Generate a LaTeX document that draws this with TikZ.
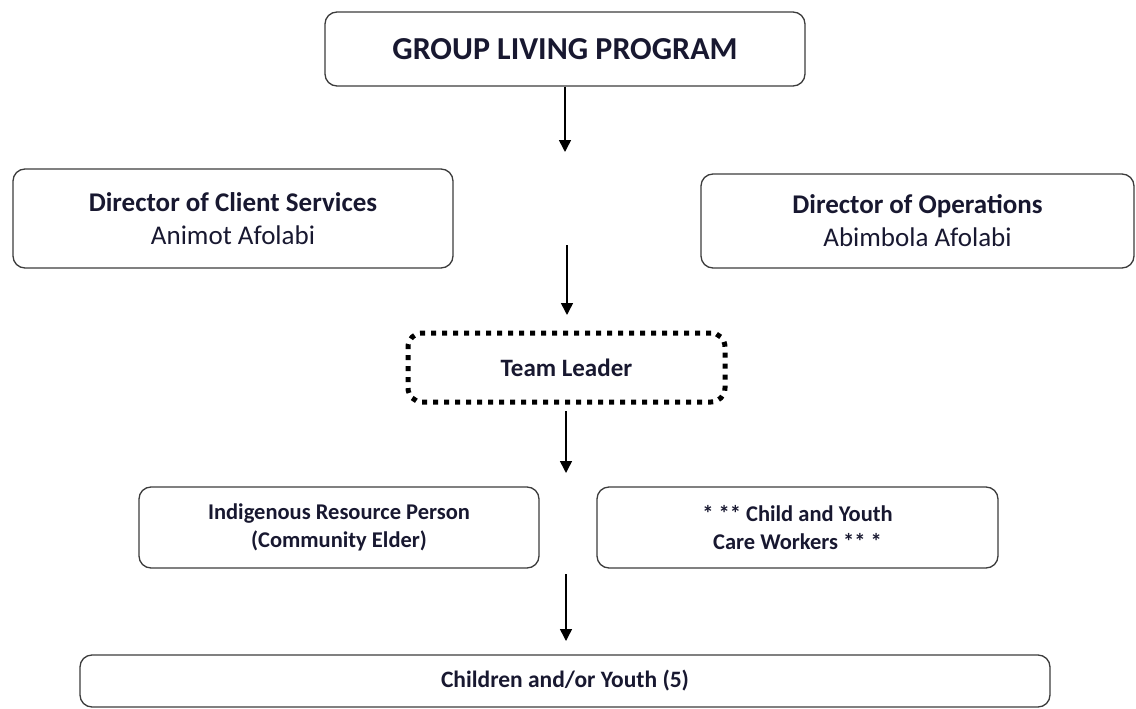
\documentclass[tikz,border=0pt]{standalone}
\usepackage{fontspec}
\setmainfont{Carlito}
\usetikzlibrary{arrows.meta}
\definecolor{ink}{RGB}{24,24,48}
\definecolor{edge}{RGB}{60,60,60}

\begin{document}
\begin{tikzpicture}[x=1pt,y=-1pt,
		box/.style={draw=edge, line width=1.3pt, rounded corners=12pt, inner sep=0pt, align=center, text=ink},
		leaderbox/.style={draw=black, line width=5pt, dash pattern=on 5pt off 6pt, rounded corners=14pt, inner sep=0pt, align=center, text=ink},
		down/.style={-{Triangle[length=12pt,width=12pt]}, line width=1.5pt}]
			\useasboundingbox (0,0) rectangle (1136,709);
			\node[box, minimum width=480pt, minimum height=74pt, font=\fontsize{32}{38}\selectfont\bfseries] (prog) at (565,49) {GROUP LIVING PROGRAM};
			\node[box, minimum width=440pt, minimum height=99pt, font=\fontsize{27}{33}\selectfont] (client) at (233,218.5) {\textbf{Director of Client Services}\\Animot Afolabi};
			\node[box, minimum width=433pt, minimum height=94pt, font=\fontsize{27}{33}\selectfont] (ops) at (917.5,221) {\textbf{Director of Operations}\\Abimbola Afolabi};
			\node[leaderbox, minimum width=317pt, minimum height=69pt, font=\fontsize{25}{30}\selectfont\bfseries] (team) at (566.5,367.5) {Team Leader};
			\node[box, minimum width=400pt, minimum height=81pt, font=\fontsize{22.5}{27.5}\selectfont\bfseries] (elder) at (339,527.5) {Indigenous Resource Person\\(Community Elder)};
			\node[box, minimum width=401pt, minimum height=81pt, font=\fontsize{22.5}{27.5}\selectfont\bfseries] (cyc) at (797.5,527.5) {* ** Child and Youth\\Care Workers ** *};
			\node[box, minimum width=970pt, minimum height=52pt, font=\fontsize{23.5}{28}\selectfont\bfseries] (kids) at (565,681) {Children and/or Youth (5)};
			% arrows, they stop short of the boxes
			\coordinate (d1) at (565,152);
			\coordinate (s2) at (567,245);
			\coordinate (d2) at (567,315);
			\coordinate (s3) at (566,411);
			\coordinate (d3) at (566,473);
			\coordinate (s4) at (566,574);
			\coordinate (d4) at (566,641);
			\draw[down] (prog.south) -- (d1);
			\draw[down] (s2) -- (d2);
			\draw[down] (s3) -- (d3);
			\draw[down] (s4) -- (d4);
		\end{tikzpicture}
\end{document}
